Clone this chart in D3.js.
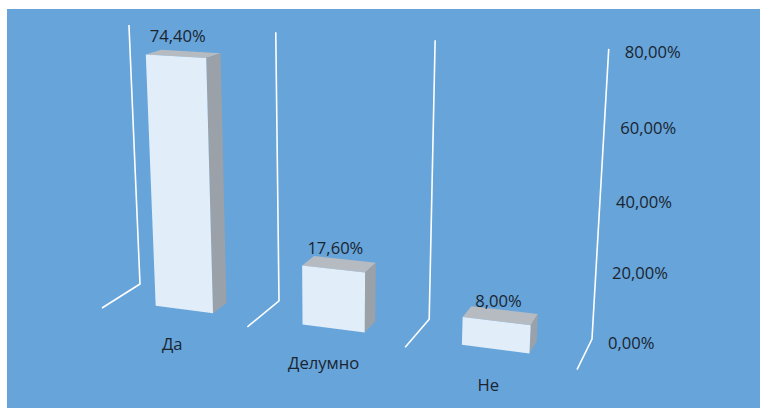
<!DOCTYPE html>
<html>
<head>
<meta charset="utf-8">
<script src="https://cdn.jsdelivr.net/npm/d3@7"></script>
<style>
  html, body { margin: 0; padding: 0; background: #ffffff; }
  svg { display: block; }
  text { font-family: "Open Sans", "Noto Sans", sans-serif; fill: #1b252f; }
</style>
</head>
<body>
<svg id="chart" width="760" height="408"></svg>
<script>
// ---- data ----
const categories = ["Да", "Делумно", "Не"];
const values = [74.4, 17.6, 8.0];
const dataLabels = ["74,40%", "17,60%", "8,00%"];
const tickValues = [0, 20, 40, 60, 80];
const tickLabels = ["0,00%", "20,00%", "40,00%", "60,00%", "80,00%"];

// ---- perspective projection (world X: categories, Y: value 0..1, Z: back 0 -> front 1) ----
const cam = {
  u: [140, 128.6, -18, -43.3],
  v: [284, 5.7, -260.35, 8.0],
  w: [1, -0.03727, -0.054, -0.052]
};
function proj(X, Y, Z) {
  const w = cam.w[0] + cam.w[1] * X + cam.w[2] * Y + cam.w[3] * Z;
  return [
    (cam.u[0] + cam.u[1] * X + cam.u[2] * Y + cam.u[3] * Z) / w,
    (cam.v[0] + cam.v[1] * X + cam.v[2] * Y + cam.v[3] * Z) / w
  ];
}

const x = d3.scaleBand().domain(categories).range([0, 3]).paddingInner(0.6).paddingOuter(0.3);
const y = d3.scaleLinear().domain([0, 80]).range([0, 1]);
const bw = x.bandwidth();
const zFront = 0.7, zBack = 0.3;

const svg = d3.select("#chart");
svg.append("rect").attr("x", 7).attr("y", 9).attr("width", 753).attr("height", 399).attr("fill", "#66a4da");

const line = d3.line();

// category division lines (back wall verticals + floor depth lines)
const divisions = d3.range(0, categories.length + 1);
svg.append("g").selectAll("path").data(divisions).join("path")
  .attr("d", i => line([proj(i, y(80), 0), proj(i, 0, 0), proj(i, 0, 1)]))
  .attr("fill", "none").attr("stroke", "#ffffff").attr("stroke-width", 1.6)
  .attr("stroke-linejoin", "miter");

// bars
const bars = svg.append("g").selectAll("g").data(categories).join("g");
bars.each(function (c, i) {
  const g = d3.select(this);
  const x0 = x(c), x1 = x(c) + bw, h = y(values[i]);
  const poly = pts => line(pts) + "Z";
  // top
  g.append("path").attr("d", poly([proj(x0, h, zFront), proj(x1, h, zFront), proj(x1, h, zBack), proj(x0, h, zBack)]))
    .attr("fill", "#b6bbc1");
  // right side
  g.append("path").attr("d", poly([proj(x1, 0, zFront), proj(x1, 0, zBack), proj(x1, h, zBack), proj(x1, h, zFront)]))
    .attr("fill", "#9aa1a9");
  // front
  g.append("path").attr("d", poly([proj(x0, 0, zFront), proj(x1, 0, zFront), proj(x1, h, zFront), proj(x0, h, zFront)]))
    .attr("fill", "#e1edf9");
});

// data labels
svg.append("g").selectAll("text").data(categories).join("text")
  .attr("x", (c, i) => proj(x(c) + bw / 2, y(values[i]), zFront)[0] + 2)
  .attr("y", (c, i) => proj(x(c) + bw / 2, y(values[i]), zFront)[1] - 21)
  .attr("text-anchor", "middle").attr("dominant-baseline", "central")
  .attr("font-size", 16.6)
  .text((c, i) => dataLabels[i]);

// category labels
svg.append("g").selectAll("text").data(categories).join("text")
  .attr("x", c => proj(x(c) + bw / 2, 0, 1)[0] - 1)
  .attr("y", c => proj(x(c) + bw / 2, 0, 1)[1] + 26)
  .attr("text-anchor", "middle").attr("dominant-baseline", "central")
  .attr("font-size", 16.6)
  .text(c => c);

// value axis labels
svg.append("g").selectAll("text").data(tickValues).join("text")
  .attr("x", v => proj(categories.length, y(v), 0)[0] + 16)
  .attr("y", v => proj(categories.length, y(v), 0)[1] + 3)
  .attr("text-anchor", "start").attr("dominant-baseline", "central")
  .attr("font-size", 16.6)
  .text((v, i) => tickLabels[i]);
</script>
</body>
</html>
